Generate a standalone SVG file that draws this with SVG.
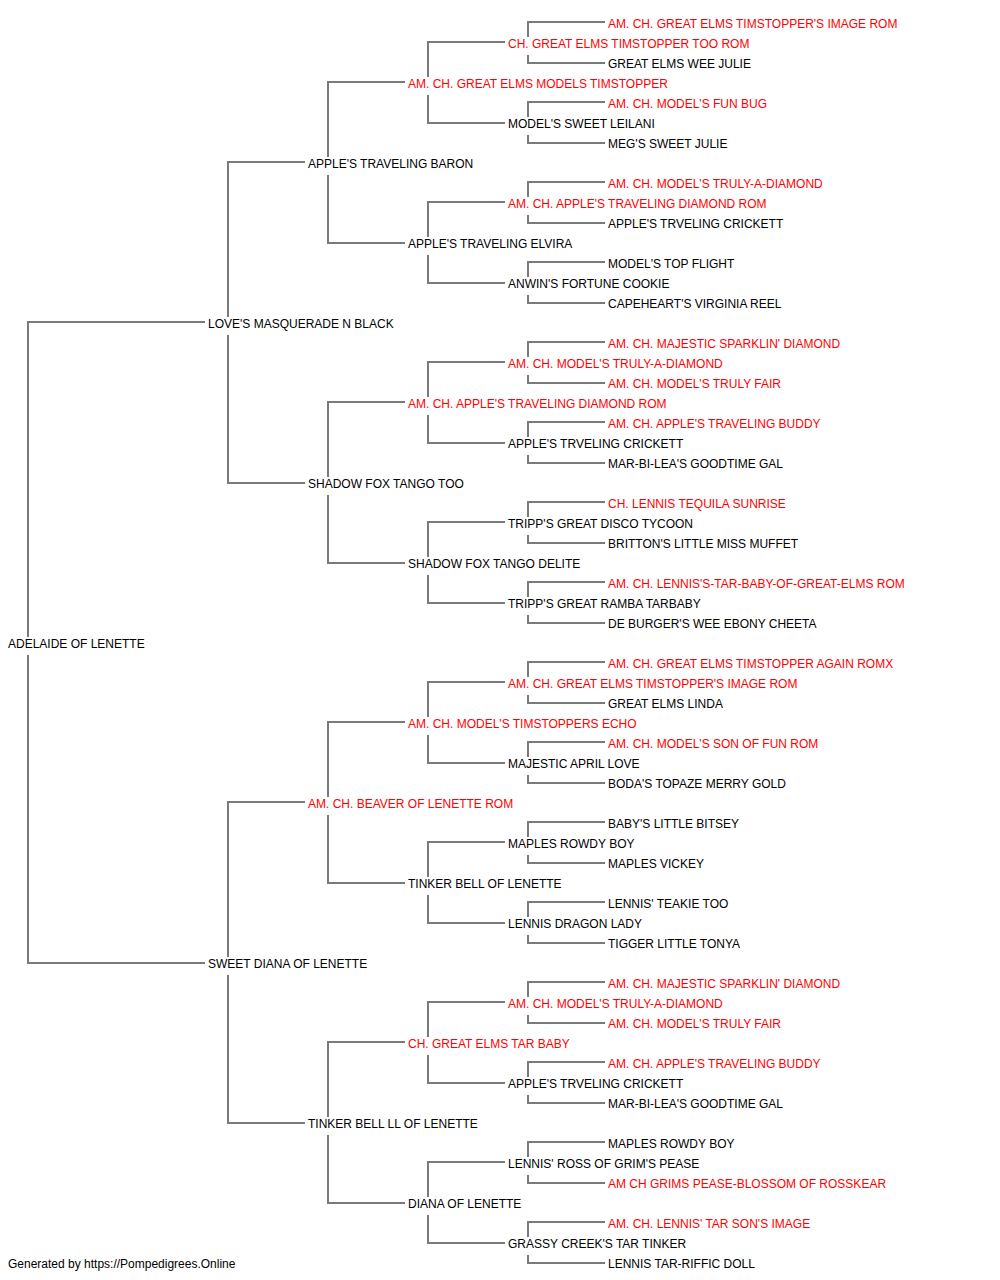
<svg xmlns="http://www.w3.org/2000/svg" width="1000" height="1280" viewBox="0 0 1000 1280">
<style>
text{font-family:"Liberation Sans",Arial,sans-serif;font-size:12px;fill:#000}
.r{fill:#ff0000}
.c path{fill:none;stroke:#7a7a7a;stroke-width:2}
</style>
<rect width="1000" height="1280" fill="#fff"/>
<g id="connectors" class="c">
<path d="M205,322H28V637M28,655V963H205"/>
<path d="M305,162H228V317M228,335V483H305"/>
<path d="M305,802H228V957M228,975V1123H305"/>
<path d="M405,82H328V157M328,175V243H405"/>
<path d="M405,402H328V477M328,495V563H405"/>
<path d="M405,722H328V797M328,815V883H405"/>
<path d="M405,1042H328V1117M328,1135V1203H405"/>
<path d="M505,42H428V77M428,95V123H505"/>
<path d="M505,202H428V237M428,255V283H505"/>
<path d="M505,362H428V397M428,415V443H505"/>
<path d="M505,522H428V557M428,575V603H505"/>
<path d="M505,682H428V717M428,735V763H505"/>
<path d="M505,842H428V877M428,895V923H505"/>
<path d="M505,1002H428V1037M428,1055V1083H505"/>
<path d="M505,1162H428V1197M428,1215V1243H505"/>
<path d="M605,22H528V37M528,55V63H605"/>
<path d="M605,102H528V117M528,135V143H605"/>
<path d="M605,182H528V197M528,215V223H605"/>
<path d="M605,262H528V277M528,295V303H605"/>
<path d="M605,342H528V357M528,375V383H605"/>
<path d="M605,422H528V437M528,455V463H605"/>
<path d="M605,502H528V517M528,535V543H605"/>
<path d="M605,582H528V597M528,615V623H605"/>
<path d="M605,662H528V677M528,695V703H605"/>
<path d="M605,742H528V757M528,775V783H605"/>
<path d="M605,822H528V837M528,855V863H605"/>
<path d="M605,902H528V917M528,935V943H605"/>
<path d="M605,982H528V997M528,1015V1023H605"/>
<path d="M605,1062H528V1077M528,1095V1103H605"/>
<path d="M605,1142H528V1157M528,1175V1183H605"/>
<path d="M605,1222H528V1237M528,1255V1263H605"/>
</g>
<g id="n0"><text x="8" y="648">ADELAIDE OF LENETTE</text></g>
<g id="n1"><text x="208" y="328">LOVE'S MASQUERADE N BLACK</text></g>
<g id="n2"><text x="208" y="968">SWEET DIANA OF LENETTE</text></g>
<g id="n3"><text x="308" y="168">APPLE'S TRAVELING BARON</text></g>
<g id="n4"><text x="308" y="488">SHADOW FOX TANGO TOO</text></g>
<g id="n5"><text class="r" x="308" y="808">AM. CH. BEAVER OF LENETTE ROM</text></g>
<g id="n6"><text x="308" y="1128">TINKER BELL LL OF LENETTE</text></g>
<g id="n7"><text class="r" x="408" y="88">AM. CH. GREAT ELMS MODELS TIMSTOPPER</text></g>
<g id="n8"><text x="408" y="248">APPLE'S TRAVELING ELVIRA</text></g>
<g id="n9"><text class="r" x="408" y="408">AM. CH. APPLE'S TRAVELING DIAMOND ROM</text></g>
<g id="n10"><text x="408" y="568">SHADOW FOX TANGO DELITE</text></g>
<g id="n11"><text class="r" x="408" y="728">AM. CH. MODEL'S TIMSTOPPERS ECHO</text></g>
<g id="n12"><text x="408" y="888">TINKER BELL OF LENETTE</text></g>
<g id="n13"><text class="r" x="408" y="1048">CH. GREAT ELMS TAR BABY</text></g>
<g id="n14"><text x="408" y="1208">DIANA OF LENETTE</text></g>
<g id="n15"><text class="r" x="508" y="48">CH. GREAT ELMS TIMSTOPPER TOO ROM</text></g>
<g id="n16"><text x="508" y="128">MODEL'S SWEET LEILANI</text></g>
<g id="n17"><text class="r" x="508" y="208">AM. CH. APPLE'S TRAVELING DIAMOND ROM</text></g>
<g id="n18"><text x="508" y="288">ANWIN'S FORTUNE COOKIE</text></g>
<g id="n19"><text class="r" x="508" y="368">AM. CH. MODEL'S TRULY-A-DIAMOND</text></g>
<g id="n20"><text x="508" y="448">APPLE'S TRVELING CRICKETT</text></g>
<g id="n21"><text x="508" y="528">TRIPP'S GREAT DISCO TYCOON</text></g>
<g id="n22"><text x="508" y="608">TRIPP'S GREAT RAMBA TARBABY</text></g>
<g id="n23"><text class="r" x="508" y="688">AM. CH. GREAT ELMS TIMSTOPPER'S IMAGE ROM</text></g>
<g id="n24"><text x="508" y="768">MAJESTIC APRIL LOVE</text></g>
<g id="n25"><text x="508" y="848">MAPLES ROWDY BOY</text></g>
<g id="n26"><text x="508" y="928">LENNIS DRAGON LADY</text></g>
<g id="n27"><text class="r" x="508" y="1008">AM. CH. MODEL'S TRULY-A-DIAMOND</text></g>
<g id="n28"><text x="508" y="1088">APPLE'S TRVELING CRICKETT</text></g>
<g id="n29"><text x="508" y="1168">LENNIS' ROSS OF GRIM'S PEASE</text></g>
<g id="n30"><text x="508" y="1248">GRASSY CREEK'S TAR TINKER</text></g>
<g id="n31"><text class="r" x="608" y="28">AM. CH. GREAT ELMS TIMSTOPPER'S IMAGE ROM</text></g>
<g id="n32"><text x="608" y="68">GREAT ELMS WEE JULIE</text></g>
<g id="n33"><text class="r" x="608" y="108">AM. CH. MODEL'S FUN BUG</text></g>
<g id="n34"><text x="608" y="148">MEG'S SWEET JULIE</text></g>
<g id="n35"><text class="r" x="608" y="188">AM. CH. MODEL'S TRULY-A-DIAMOND</text></g>
<g id="n36"><text x="608" y="228">APPLE'S TRVELING CRICKETT</text></g>
<g id="n37"><text x="608" y="268">MODEL'S TOP FLIGHT</text></g>
<g id="n38"><text x="608" y="308">CAPEHEART'S VIRGINIA REEL</text></g>
<g id="n39"><text class="r" x="608" y="348">AM. CH. MAJESTIC SPARKLIN' DIAMOND</text></g>
<g id="n40"><text class="r" x="608" y="388">AM. CH. MODEL'S TRULY FAIR</text></g>
<g id="n41"><text class="r" x="608" y="428">AM. CH. APPLE'S TRAVELING BUDDY</text></g>
<g id="n42"><text x="608" y="468">MAR-BI-LEA'S GOODTIME GAL</text></g>
<g id="n43"><text class="r" x="608" y="508">CH. LENNIS TEQUILA SUNRISE</text></g>
<g id="n44"><text x="608" y="548">BRITTON'S LITTLE MISS MUFFET</text></g>
<g id="n45"><text class="r" x="608" y="588">AM. CH. LENNIS'S-TAR-BABY-OF-GREAT-ELMS ROM</text></g>
<g id="n46"><text x="608" y="628">DE BURGER'S WEE EBONY CHEETA</text></g>
<g id="n47"><text class="r" x="608" y="668">AM. CH. GREAT ELMS TIMSTOPPER AGAIN ROMX</text></g>
<g id="n48"><text x="608" y="708">GREAT ELMS LINDA</text></g>
<g id="n49"><text class="r" x="608" y="748">AM. CH. MODEL'S SON OF FUN ROM</text></g>
<g id="n50"><text x="608" y="788">BODA'S TOPAZE MERRY GOLD</text></g>
<g id="n51"><text x="608" y="828">BABY'S LITTLE BITSEY</text></g>
<g id="n52"><text x="608" y="868">MAPLES VICKEY</text></g>
<g id="n53"><text x="608" y="908">LENNIS' TEAKIE TOO</text></g>
<g id="n54"><text x="608" y="948">TIGGER LITTLE TONYA</text></g>
<g id="n55"><text class="r" x="608" y="988">AM. CH. MAJESTIC SPARKLIN' DIAMOND</text></g>
<g id="n56"><text class="r" x="608" y="1028">AM. CH. MODEL'S TRULY FAIR</text></g>
<g id="n57"><text class="r" x="608" y="1068">AM. CH. APPLE'S TRAVELING BUDDY</text></g>
<g id="n58"><text x="608" y="1108">MAR-BI-LEA'S GOODTIME GAL</text></g>
<g id="n59"><text x="608" y="1148">MAPLES ROWDY BOY</text></g>
<g id="n60"><text class="r" x="608" y="1188">AM CH GRIMS PEASE-BLOSSOM OF ROSSKEAR</text></g>
<g id="n61"><text class="r" x="608" y="1228">AM. CH. LENNIS' TAR SON'S IMAGE</text></g>
<g id="n62"><text x="608" y="1268">LENNIS TAR-RIFFIC DOLL</text></g>
<text x="8" y="1268">Generated by https://Pompedigrees.Online</text>
</svg>
